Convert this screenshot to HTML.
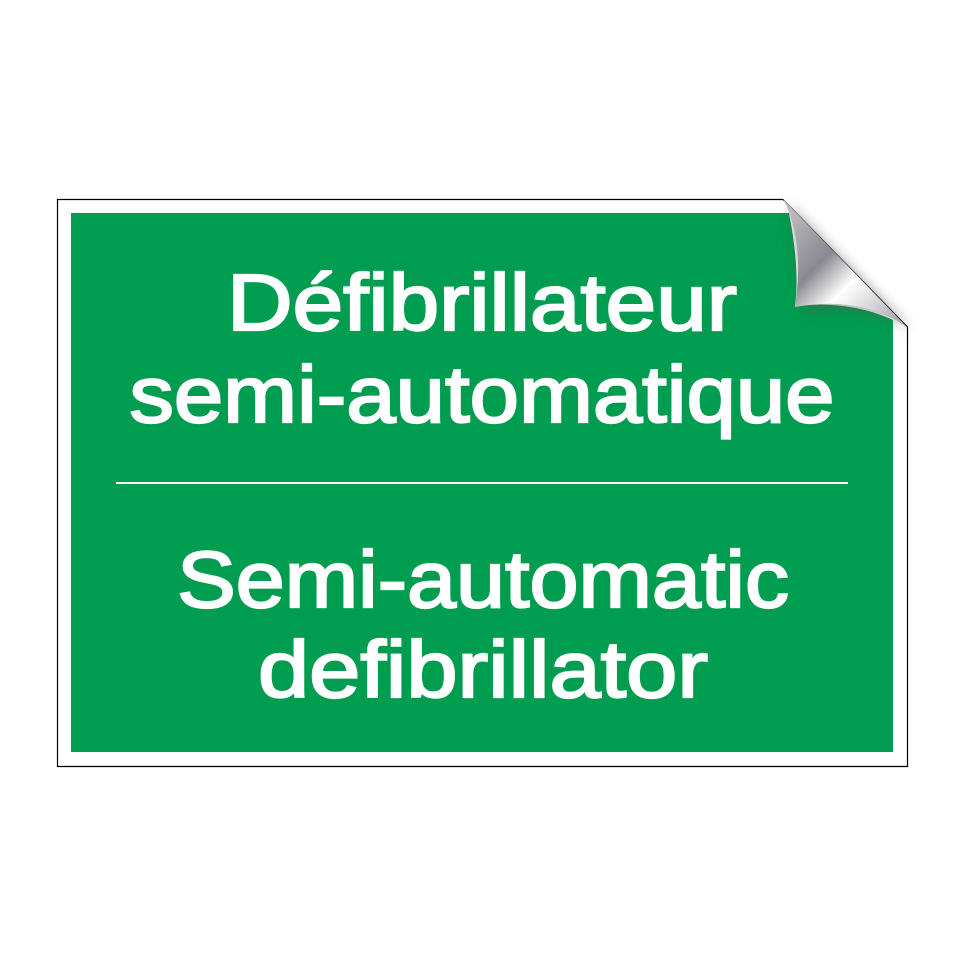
<!DOCTYPE html>
<html><head><style>html,body{margin:0;padding:0;background:#fff}</style></head><body>
<svg width="964" height="964" viewBox="0 0 964 964" xmlns="http://www.w3.org/2000/svg">
<defs>
<linearGradient id="g" x1="0" y1="0" x2="1" y2="1">
<stop offset="0" stop-color="#c8c8cc"/><stop offset="0.4" stop-color="#8a8890"/><stop offset="0.6" stop-color="#ffffff"/><stop offset="0.8" stop-color="#d0d0d4"/><stop offset="1" stop-color="#9a98a0"/>
</linearGradient>
<filter id="s" x="-30%" y="-30%" width="160%" height="160%"><feGaussianBlur stdDeviation="6"/></filter>
</defs>
<path d="M57.5 199.5 H783 L907.5 327 V766.5 H57.5 Z" fill="#fff" stroke="#000" stroke-width="1.2"/>
<path d="M71 213 H789 Q800 270 795 306 Q850 300 893 320 V752 H71 Z" fill="#009c4f"/>
<path d="M790 205 L912 330 Q860 300 805 312 Z" fill="#555" opacity="0.5" filter="url(#s)"/>
<path d="M783 199 Q805 240 795 307 Q860 295 907 327 Z" fill="url(#g)"/>
<g fill="#fff" stroke="#fff" stroke-width="2.2" font-family="Liberation Sans, sans-serif" font-size="80" text-anchor="middle">
<text x="482" y="330" textLength="510" lengthAdjust="spacingAndGlyphs">Défibrillateur</text>
<text x="482" y="422" textLength="705" lengthAdjust="spacingAndGlyphs">semi-automatique</text>
<text x="483" y="607" textLength="612" lengthAdjust="spacingAndGlyphs">Semi-automatic</text>
<text x="483" y="697" textLength="450" lengthAdjust="spacingAndGlyphs">defibrillator</text>
</g>
<rect x="116" y="482" width="732" height="2" fill="#fff"/>
</svg>
</body></html>
